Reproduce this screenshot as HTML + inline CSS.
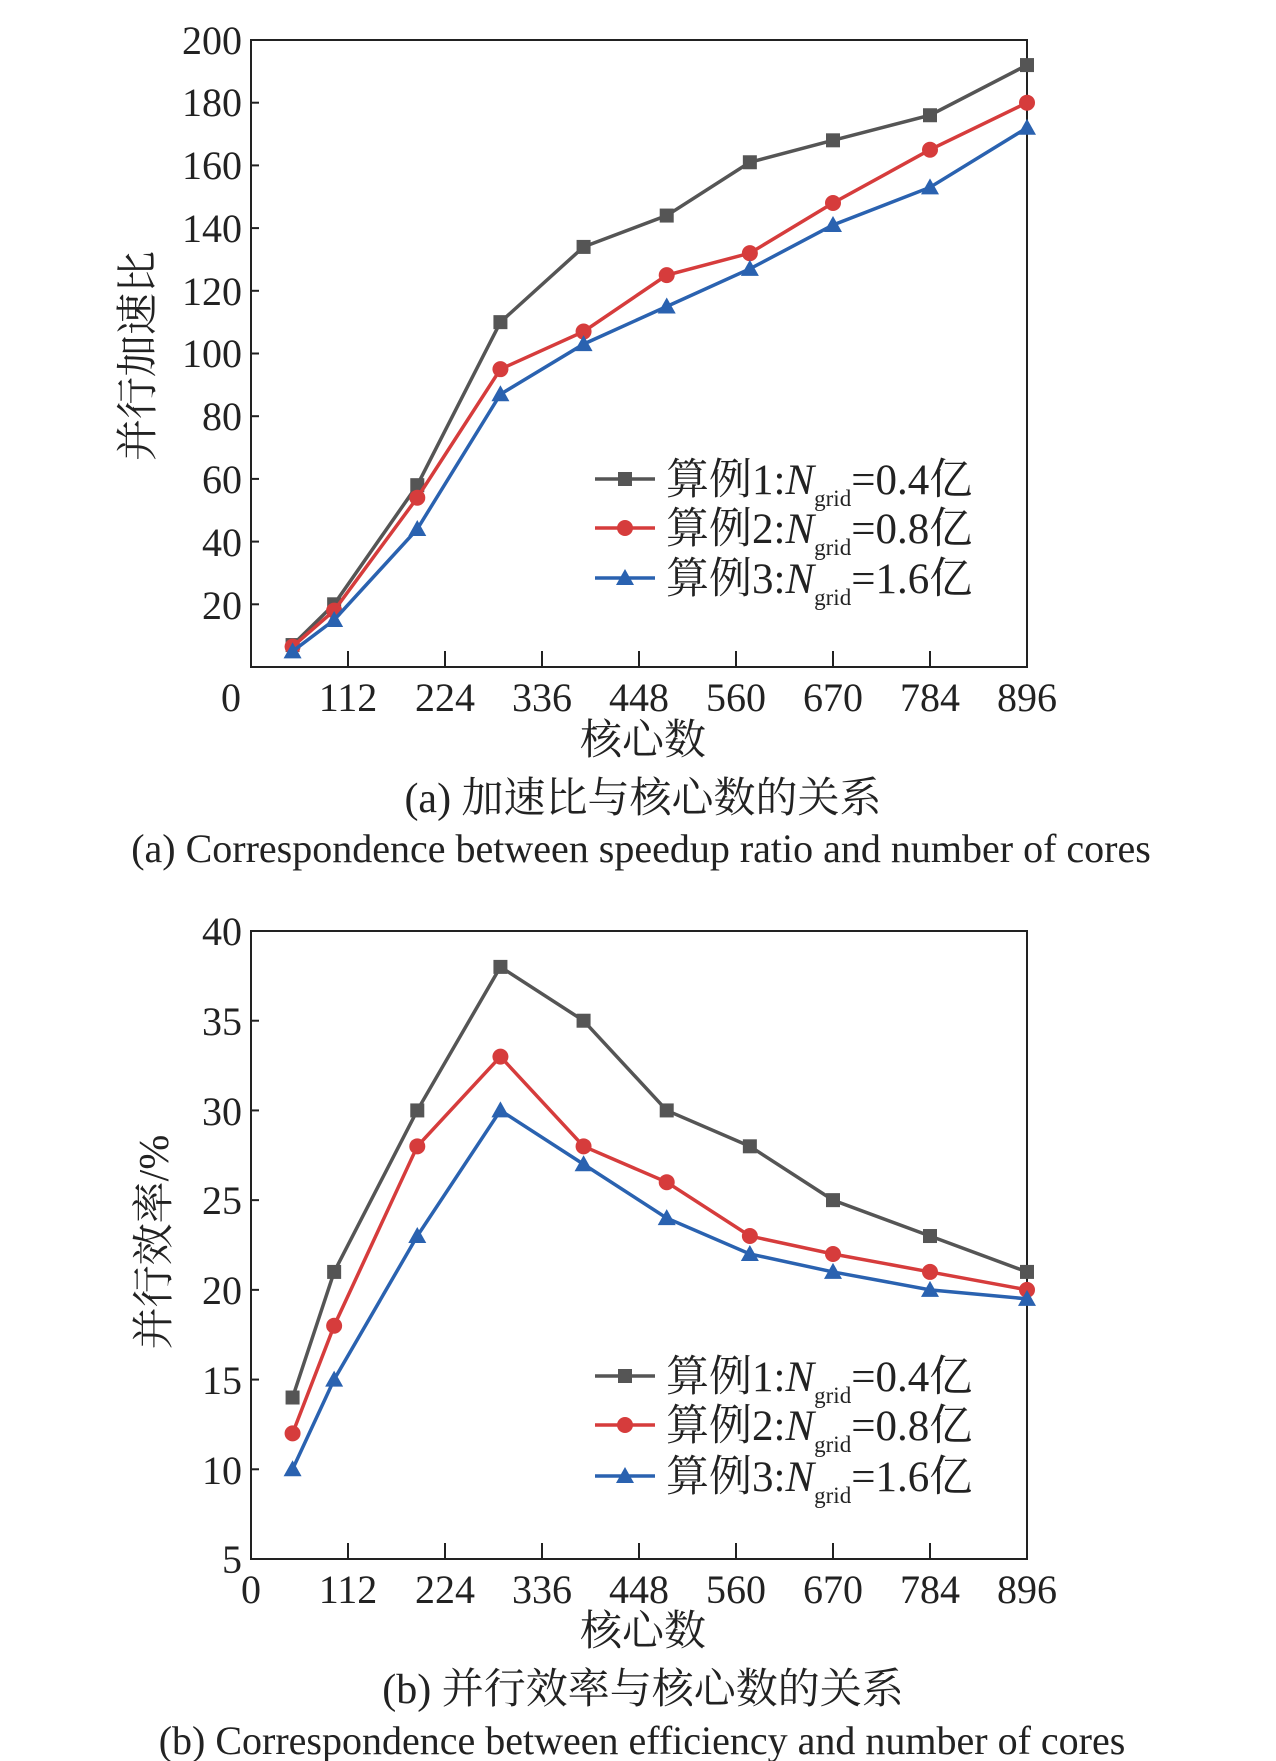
<!DOCTYPE html>
<html><head><meta charset="utf-8"><style>
html,body{margin:0;padding:0;background:#fff}
svg{display:block}
text{font-family:"Liberation Serif","Noto Serif CJK SC",serif;fill:#222}
</style></head><body>
<svg id="s" width="1276" height="1761" viewBox="0 0 1276 1761" xmlns="http://www.w3.org/2000/svg">
<g font-size="40">
<rect x="251" y="40" width="776" height="627" fill="none" stroke="#222" stroke-width="2"/>
<g text-anchor="end">
<text x="242" y="54">200</text><text x="242" y="116">180</text><text x="242" y="179">160</text><text x="242" y="242">140</text><text x="242" y="305">120</text><text x="242" y="367">100</text><text x="242" y="430">80</text><text x="242" y="493">60</text><text x="242" y="556">40</text><text x="242" y="619">20</text>
</g>
<g text-anchor="middle">
<text x="231" y="711">0</text><text x="348" y="711">112</text><text x="445" y="711">224</text><text x="542" y="711">336</text><text x="639" y="711">448</text><text x="736" y="711">560</text><text x="833" y="711">670</text><text x="930" y="711">784</text><text x="1027" y="711">896</text>
<text x="643" y="754" font-size="42">核心数</text>
<text x="643" y="812" font-size="42">(a) 加速比与核心数的关系</text>
<text x="641" y="862" font-size="40">(a) Correspondence between speedup ratio and number of cores</text>
</g>
<text transform="translate(152,356) rotate(-90)" text-anchor="middle" font-size="42">并行加速比</text>
<rect x="251" y="931" width="776" height="628" fill="none" stroke="#222" stroke-width="2"/>
<g text-anchor="end">
<text x="242" y="945">40</text><text x="242" y="1035">35</text><text x="242" y="1125">30</text><text x="242" y="1214">25</text><text x="242" y="1304">20</text><text x="242" y="1394">15</text><text x="242" y="1484">10</text><text x="242" y="1573">5</text>
</g>
<g text-anchor="middle">
<text x="251" y="1603">0</text><text x="348" y="1603">112</text><text x="445" y="1603">224</text><text x="542" y="1603">336</text><text x="639" y="1603">448</text><text x="736" y="1603">560</text><text x="833" y="1603">670</text><text x="930" y="1603">784</text><text x="1027" y="1603">896</text>
<text x="643" y="1645" font-size="42">核心数</text>
<text x="643" y="1703" font-size="42">(b) 并行效率与核心数的关系</text>
<text x="642" y="1754" font-size="40">(b) Correspondence between efficiency and number of cores</text>
</g>
<text transform="translate(168,1242) rotate(-90)" text-anchor="middle" font-size="42">并行效率/%</text>
</g>
<g id="dyn"></g>
</svg>
<script>
var NS="http://www.w3.org/2000/svg",g=document.getElementById('dyn');
function el(t,a){var e=document.createElementNS(NS,t);for(var k in a)e.setAttribute(k,a[k]);g.appendChild(e);return e}
var xs=[48,96,192,288,384,480,576,672,784,896];
var cols=["#555555","#d63c3c","#2a62b0"];
function mk(type,x,y,c){if(type==0)el('rect',{x:x-7,y:y-7,width:14,height:14,fill:c});
else if(type==1)el('circle',{cx:x,cy:y,r:8,fill:c});
else el('polygon',{points:(x)+","+(y-9)+" "+(x-9)+","+(y+7)+" "+(x+9)+","+(y+7),fill:c});}
function chart(top,bot,ymin,ymax,data,ticksY,legY,labels){
 var X=function(v){return 251+v*776/896},Y=function(v){return bot-(v-ymin)*(bot-top)/(ymax-ymin)};
 for(var i=1;i<=8;i++){var x=251+i*97;el('line',{x1:x,x2:x,y1:bot,y2:bot-16,stroke:'#222','stroke-width':2});}
 ticksY.forEach(function(v){el('line',{x1:251,x2:259,y1:Y(v),y2:Y(v),stroke:'#222','stroke-width':2})});
 data.forEach(function(d,k){el('polyline',{points:d.map(function(v,i){return X(xs[i])+","+Y(v)}).join(" "),fill:'none',stroke:cols[k],'stroke-width':3.5});
  d.forEach(function(v,i){mk(k,X(xs[i]),Y(v),cols[k])});});
 labels.forEach(function(l,k){var y=legY[k];el('line',{x1:595,x2:655,y1:y,y2:y,stroke:cols[k],'stroke-width':3.5});mk(k,625,y,cols[k]);
  var t=el('text',{x:666,y:y+15,'font-size':43});
  t.innerHTML='算例'+(k+1)+':<tspan font-style="italic">N</tspan><tspan font-size="23" dy="12">grid</tspan><tspan dy="-12">='+l+'亿</tspan>';});
}
chart(40,667,0,200,[[7,20,58,110,134,144,161,168,176,192],[6.5,18,54,95,107,125,132,148,165,180],[5,15,44,87,103,115,127,141,153,172]],[20,40,60,80,100,120,140,160,180],[479,528,578],["0.4","0.8","1.6"]);
chart(931,1559,5,40,[[14,21,30,38,35,30,28,25,23,21],[12,18,28,33,28,26,23,22,21,20],[10,15,23,30,27,24,22,21,20,19.5]],[10,15,20,25,30,35],[1376,1425,1476],["0.4","0.8","1.6"]);
</script>
</body></html>
